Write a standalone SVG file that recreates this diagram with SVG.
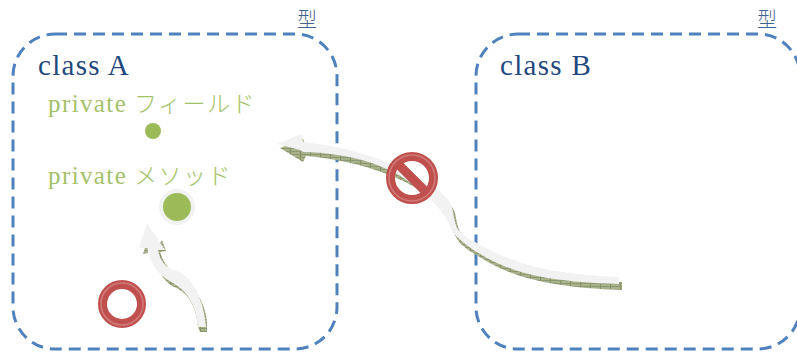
<svg xmlns="http://www.w3.org/2000/svg" width="797" height="352" viewBox="0 0 797 352">
<style>
.box{fill:none;stroke:#4f81bd;stroke-width:3;stroke-dasharray:12 7}
.cls{font-family:"Liberation Serif","Noto Sans CJK JP",serif;font-size:29px;letter-spacing:1.3px;fill:#1f497d}
.ty{font-family:"Noto Sans CJK JP",sans-serif;font-weight:300;font-size:20px;fill:#1f497d;opacity:.85}
.pv{font-family:"Liberation Serif","Noto Sans CJK JP",serif;font-size:25px;letter-spacing:1.4px;fill:#9bbb59;opacity:.9}
.ka{font-family:"Noto Sans CJK JP",sans-serif;font-weight:300;font-size:23px;letter-spacing:1.5px}
.sh{fill:url(#h)}
.top{fill:#f2f2f2}
.ring{stroke:#c0504d;fill:none}
.rim{fill:none;stroke:#dc9a98;stroke-width:1.5;opacity:.6}
</style>
<defs>
<pattern id="h" width="10" height="3" patternUnits="userSpaceOnUse">
<rect width="10" height="3" fill="#a9b18c"/>
<path d="M0 0V3" stroke="#5d6b35" stroke-width="1"/>
<path d="M0 1.5H10" stroke="#8d9870" stroke-width="1"/>
</pattern>
</defs>
<g id="classA"><rect class="box" x="13" y="34" width="324" height="315" rx="42"/>
<text class="cls" x="38" y="75">class A</text>
<text class="ty" x="297" y="27">型</text></g>
<g id="classB"><rect class="box" x="476" y="34" width="324" height="315" rx="42"/>
<text class="cls" x="500" y="75">class B</text>
<text class="ty" x="757" y="27">型</text></g>
<g id="field"><text class="pv" x="48" y="112">private <tspan class="ka" x="134">フィールド</tspan></text><circle cx="153" cy="131" r="8" fill="#9bbb59"/></g>
<g id="method"><text class="pv" x="48" y="184">private <tspan class="ka" x="134">メソッド</tspan></text><circle cx="177" cy="207" r="18" fill="#f2f2f2"/><circle cx="177" cy="207" r="14" fill="#9bbb59"/></g>
<g id="connectors">
<path class="sh" d="M280 148L303 139L306 147C340 151 383 160 423 183C443 195 455 205 456 218C458 233 465 240 478 247C510 265 550 279 622 282L622 290C550 288 510 277 478 256C468 250 460 245 456 237C450 227 449 217 439 205C413 180 363 161 306 156L303 162Z"/>
<path class="top" d="M277 144L301 134L303 142C337 146 380 155 420 178C440 190 451 200 452 207C454 218 455 223 457 228C462 235 468 239 475 242C507 260 540 274 619 277L619 284C540 282 507 271 475 251C465 244 457 238 453 232C447 222 446 215 443 214C437 204 420 188 397 174C380 165 360 158 337 155C325 153 315 152 303 152L300 150Z"/>
<path class="sh" d="M143 254L147 241L148 253ZM155 251L162 240L166 251L160 252C163 262 170 272 178 275C194 283 206 305 207 322L207 332L200 332L198 327C196 305 188 292 172 286C161 279 155 265 155 251Z"/>
<path class="top" d="M147 223L165 250L158 250C160 262 168 270 177 271C192 276 204 300 206 327L198 327C196 305 188 292 173 283C158 275 151 265 149 252L148 248L139 248Z"/>
</g>
<g id="ok"><circle class="ring" cx="122" cy="304" r="19.5" stroke-width="9"/><circle class="rim" cx="122" cy="304" r="21"/></g>
<g id="ng"><circle class="ring" cx="412" cy="178" r="21.5" stroke-width="9"/><path d="M396 162L428 194" stroke="#c0504d" stroke-width="9"/><circle class="rim" cx="412" cy="178" r="23"/></g>
</svg>
